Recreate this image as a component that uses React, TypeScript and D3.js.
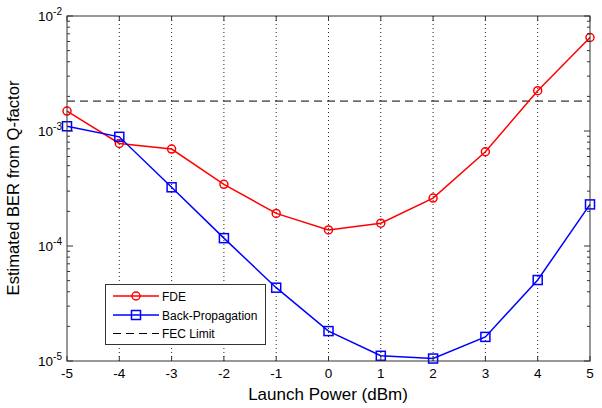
import React, { useRef, useEffect } from 'react';
import * as d3 from 'd3';

const power = [-5, -4, -3, -2, -1, 0, 1, 2, 3, 4, 5];
const fde = [1.49e-3, 7.8e-4, 6.97e-4, 3.44e-4, 1.92e-4, 1.38e-4, 1.58e-4, 2.61e-4, 6.6e-4, 2.24e-3, 6.5e-3];
const backProp = [1.1e-3, 8.9e-4, 3.24e-4, 1.17e-4, 4.34e-5, 1.82e-5, 1.11e-5, 1.05e-5, 1.62e-5, 5.06e-5, 2.3e-4];
const fecLimit = 1.82e-3;
const xTicks = [-5, -4, -3, -2, -1, 0, 1, 2, 3, 4, 5];
const yDecades = [-5, -4, -3, -2];

function App() {
    const ref = useRef<SVGSVGElement>(null);
    useEffect(() => {
        const svg = d3.select(ref.current);
        svg.selectAll('*').remove();
        const left = 67, right = 590, top = 16, bottom = 361;
        const font = 'Liberation Sans, Arial, sans-serif';
        const axisColor = '#333';

        const x = d3.scaleLinear().domain([-5, 5]).range([left, right]);
        const y = d3.scaleLog().domain([1e-5, 1e-2]).range([bottom, top]);

        svg.append('rect').attr('x', left).attr('y', top)
            .attr('width', right - left).attr('height', bottom - top).attr('fill', '#fff');

        // vertical grid
        svg.append('g').selectAll('line').data(xTicks.slice(1, -1)).enter().append('line')
            .attr('x1', d => x(d)).attr('x2', d => x(d))
            .attr('y1', top).attr('y2', bottom)
            .attr('stroke', '#222').attr('stroke-width', 1)
            .attr('stroke-dasharray', '1,3');

        // FEC limit
        svg.append('line')
            .attr('x1', left).attr('x2', right)
            .attr('y1', y(fecLimit)).attr('y2', y(fecLimit))
            .attr('stroke', '#000').attr('stroke-width', 1)
            .attr('stroke-dasharray', '8,5');

        const line = d3.line<[number, number]>().x(d => x(d[0])).y(d => y(d[1]));

        svg.append('path').datum(power.map((p, i) => [p, fde[i]] as [number, number]))
            .attr('d', line).attr('fill', 'none').attr('stroke', '#ff0000').attr('stroke-width', 1.5);
        svg.append('g').selectAll('circle').data(power).enter().append('circle')
            .attr('cx', d => x(d)).attr('cy', (d, i) => y(fde[i])).attr('r', 4)
            .attr('fill', 'none').attr('stroke', '#ff0000').attr('stroke-width', 1.5);

        svg.append('path').datum(power.map((p, i) => [p, backProp[i]] as [number, number]))
            .attr('d', line).attr('fill', 'none').attr('stroke', '#0000ff').attr('stroke-width', 1.5);
        svg.append('g').selectAll('rect').data(power).enter().append('rect')
            .attr('x', d => x(d) - 4.5).attr('y', (d, i) => y(backProp[i]) - 4.5)
            .attr('width', 9).attr('height', 9)
            .attr('fill', 'none').attr('stroke', '#0000ff').attr('stroke-width', 1.5);

        // frame
        svg.append('rect').attr('x', left).attr('y', top)
            .attr('width', right - left).attr('height', bottom - top)
            .attr('fill', 'none').attr('stroke', axisColor).attr('stroke-width', 1);

        // x ticks (inside, bottom and top)
        const tk = svg.append('g').attr('stroke', axisColor).attr('stroke-width', 1);
        xTicks.forEach(t => {
            tk.append('line').attr('x1', x(t)).attr('x2', x(t)).attr('y1', bottom).attr('y2', bottom - 5);
            tk.append('line').attr('x1', x(t)).attr('x2', x(t)).attr('y1', top).attr('y2', top + 5);
        });
        // y ticks, major + minor, both sides
        y.ticks().forEach(v => {
            const major = Math.abs(Math.log10(v) - Math.round(Math.log10(v))) < 1e-9;
            const len = major ? 6 : 3;
            tk.append('line').attr('x1', left).attr('x2', left + len).attr('y1', y(v)).attr('y2', y(v));
            tk.append('line').attr('x1', right).attr('x2', right - len).attr('y1', y(v)).attr('y2', y(v));
        });

        // x tick labels
        svg.append('g').selectAll('text').data(xTicks).enter().append('text')
            .attr('x', d => x(d)).attr('y', bottom + 17)
            .attr('text-anchor', 'middle').attr('font-family', font).attr('font-size', 13.5)
            .attr('fill', '#000').text(d => String(d));

        // y tick labels 10^n
        const yl = svg.append('g').attr('font-family', font).attr('fill', '#000');
        yDecades.forEach(e => {
            const t = yl.append('text').attr('x', 62).attr('y', y(Math.pow(10, e)) + 5)
                .attr('text-anchor', 'end').attr('font-size', 13.5);
            t.append('tspan').text('10');
            t.append('tspan').attr('dy', -6).attr('font-size', 10).text(String(e));
        });

        // axis labels
        svg.append('text').attr('x', 328).attr('y', 400)
            .attr('text-anchor', 'middle').attr('font-family', font).attr('font-size', 17)
            .attr('fill', '#000').text('Launch Power (dBm)');
        svg.append('text').attr('transform', `translate(19,188) rotate(-90)`)
            .attr('text-anchor', 'middle').attr('font-family', font).attr('font-size', 16.6)
            .attr('fill', '#000').text('Estimated BER from Q-factor');

        // legend
        const lg = svg.append('g');
        lg.append('rect').attr('x', 105.5).attr('y', 284.5).attr('width', 160).attr('height', 60)
            .attr('fill', '#fff').attr('stroke', axisColor).attr('stroke-width', 1);
        const rows = [
            { label: 'FDE', color: '#ff0000', marker: 'circle', dash: null, yy: 296 },
            { label: 'Back-Propagation', color: '#0000ff', marker: 'square', dash: null, yy: 315 },
            { label: 'FEC Limit', color: '#000', marker: null, dash: '8,5', yy: 333.5 },
        ];
        rows.forEach(r => {
            lg.append('line').attr('x1', 113).attr('x2', 159).attr('y1', r.yy).attr('y2', r.yy)
                .attr('stroke', r.color).attr('stroke-width', r.dash ? 1 : 1.5)
                .attr('stroke-dasharray', r.dash);
            if (r.marker === 'circle') {
                lg.append('circle').attr('cx', 136).attr('cy', r.yy).attr('r', 4)
                    .attr('fill', 'none').attr('stroke', r.color).attr('stroke-width', 1.5);
            } else if (r.marker === 'square') {
                lg.append('rect').attr('x', 131.5).attr('y', r.yy - 4.5).attr('width', 9).attr('height', 9)
                    .attr('fill', 'none').attr('stroke', r.color).attr('stroke-width', 1.5);
            }
            lg.append('text').attr('x', 162).attr('y', r.yy + 4.5)
                .attr('font-family', font).attr('font-size', 12).attr('fill', '#000').text(r.label);
        });
    }, []);
    return (
        <svg ref={ref} width="602" height="408" style={{ position: 'absolute', left: 0, top: 0 }}></svg>
    );
}

export default App;
